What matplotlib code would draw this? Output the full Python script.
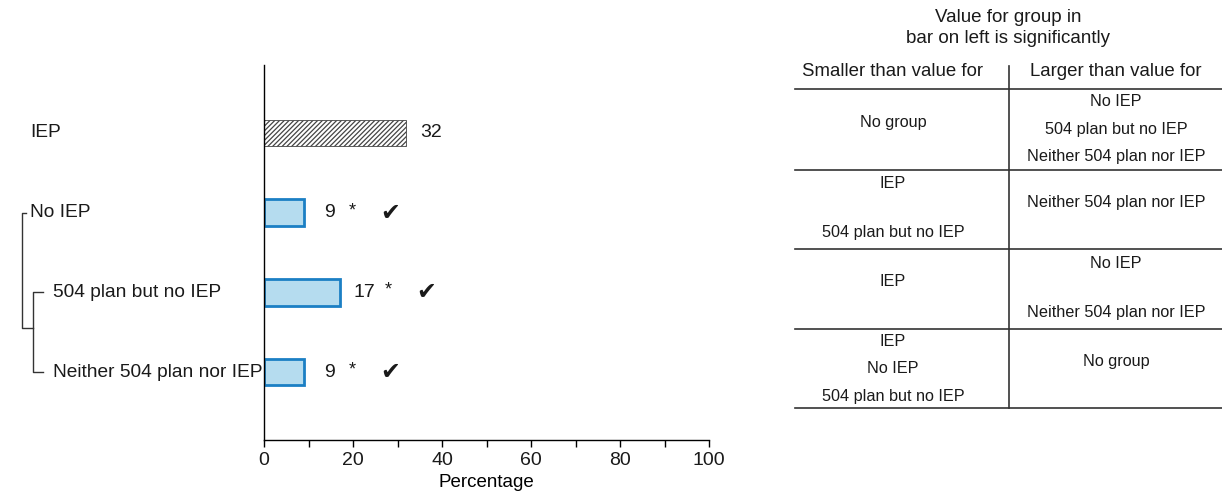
import matplotlib
matplotlib.use("Agg")
import matplotlib.pyplot as plt
from matplotlib.transforms import blended_transform_factory

plt.rcParams['font.family'] = ['Liberation Sans', 'DejaVu Sans']
plt.rcParams['hatch.linewidth'] = 0.9
plt.rcParams['text.color'] = '#1a1a1a'

# data
groups = ["IEP", "No IEP", "504 plan but no IEP", "Neither 504 plan nor IEP"]
values = [32, 9, 17, 9]
significant = [False, True, True, True]
checked = [False, True, True, True]

table_title = "Value for group in\nbar on left is significantly"
table_headers = ["Smaller than value for", "Larger than value for"]
smaller_than = [
    ["No group"],
    ["IEP", "504 plan but no IEP"],
    ["IEP"],
    ["IEP", "No IEP", "504 plan but no IEP"],
]
larger_than = [
    ["No IEP", "504 plan but no IEP", "Neither 504 plan nor IEP"],
    ["Neither 504 plan nor IEP"],
    ["No IEP", "Neither 504 plan nor IEP"],
    ["No group"],
]

W, H = 1222, 493
fig = plt.figure(figsize=(W / 100, H / 100), dpi=100)

# main bar axes
ax = fig.add_axes([264 / W, 53 / H, 445 / W, 375 / H])
for i, (v, g) in enumerate(zip(values, groups)):
    if g == "IEP":
        ax.barh(i, v, height=0.33, color="white", edgecolor="#444444",
                hatch="///////", linewidth=0.6)
    else:
        ax.barh(i, v, height=0.33, color="#b5dcef", edgecolor="#1b7fc4",
                linewidth=2)
    ax.annotate(str(v), (v, i), xytext=(18, 0), textcoords="offset points",
                ha="center", va="center", fontsize=14)
    if significant[i]:
        ax.annotate("*", (v, i), xytext=(35, 1.5), textcoords="offset points",
                    ha="center", va="center", fontsize=13)
    if checked[i]:
        ax.annotate("\u2714", (v, i), xytext=(62, 0), textcoords="offset points",
                    ha="center", va="center", fontsize=17,
                    family=['DejaVu Sans'])

ax.set_xlim(0, 100)
ax.set_ylim(3.85, -0.85)
ax.set_yticks([])
ax.set_xticks(range(0, 101, 20))
ax.set_xticks(range(10, 100, 20), minor=True)
ax.tick_params(axis='x', which='both', length=5, width=1, labelsize=14,
               direction='out', color='black', labelcolor='#1a1a1a')
ax.set_xlabel("Percentage", fontsize=13.5, labelpad=4)
for s in ["top", "right"]:
    ax.spines[s].set_visible(False)
for s in ["left", "bottom"]:
    ax.spines[s].set_linewidth(1)

# group labels and brackets (x in figure pixels, y in data)
tr = blended_transform_factory(fig.transFigure, ax.transData)
label_x = [30, 30, 53, 53]
for i, g in enumerate(groups):
    ax.text(label_x[i] / W, i, g, transform=tr, ha="left", va="center",
            fontsize=13.8)

def px(x):
    return x / W

lk = dict(color="#333333", lw=1, transform=tr, clip_on=False)
ax.plot([px(26), px(22), px(22), px(33)], [1, 1, 2.44, 2.44], **lk)
ax.plot([px(43), px(33), px(33), px(43)], [2, 2, 3, 3], **lk)

# table on right, in figure pixel coords
tax = fig.add_axes([0, 0, 1, 1])
tax.set_xlim(0, W)
tax.set_ylim(H, 0)
tax.axis("off")

tax.text(1008, 28, table_title, ha="center", va="center", fontsize=13.5,
         linespacing=1.3)
col_x = [893, 1116]
for cx, h in zip(col_x, table_headers):
    tax.text(cx, 72, h, ha="center", va="center", fontsize=13.4)

row_lines = [89, 170, 249, 329, 408]
for y in row_lines:
    tax.plot([795, 1222], [y, y], color="#333333", lw=1.2)
tax.plot([1009, 1009], [66, 408], color="#333333", lw=1.2)

for r in range(len(smaller_than)):
    center = (row_lines[r] + row_lines[r + 1]) / 2
    for cx, entries in zip(col_x, [smaller_than[r], larger_than[r]]):
        n = len(entries)
        if n == 1:
            ys = [center - 7]
        elif n == 2:
            ys = [center - 25.5, center + 23.5]
        else:
            ys = [center - 27.5, center, center + 27.5]
        for y, t in zip(ys, entries):
            tax.text(cx, y, t, ha="center", va="center", fontsize=11.7)

fig.savefig("out.png", dpi=100)
